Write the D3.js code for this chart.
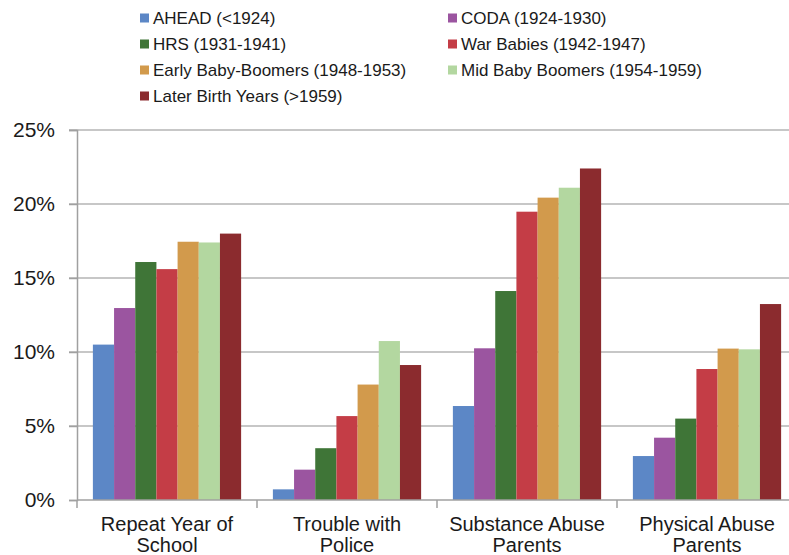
<!DOCTYPE html>
<html><head><meta charset="utf-8">
<script src="https://cdn.jsdelivr.net/npm/d3@7"></script>
<style>body{margin:0;background:#fff;} svg{display:block;font-family:"Liberation Sans",Arial,sans-serif;}</style>
</head><body><svg id="c" width="789" height="555"></svg>
<script>
const categories = ["Repeat Year of|School", "Trouble with|Police", "Substance Abuse|Parents", "Physical Abuse|Parents"];
const seriesNames = ["AHEAD (<1924)", "CODA (1924-1930)", "HRS (1931-1941)", "War Babies (1942-1947)", "Early Baby-Boomers (1948-1953)", "Mid Baby Boomers (1954-1959)", "Later Birth Years (>1959)"];
const seriesColors = ["#5c87c6", "#9b55a0", "#3f7537", "#c43d46", "#d29a4c", "#b3d7a0", "#8b2b2e"];
const AHEAD = [10.5, 0.72, 6.35, 2.97];
const CODA = [12.97, 2.05, 10.25, 4.21];
const HRS = [16.08, 3.5, 14.12, 5.5];
const WarBabies = [15.6, 5.67, 19.48, 8.85];
const EarlyBoomers = [17.45, 7.8, 20.43, 10.23];
const MidBoomers = [17.4, 10.74, 21.1, 10.18];
const LaterBirth = [18.0, 9.12, 22.4, 13.24];
const yTicks = [0, 5, 10, 15, 20, 25];

const seriesValues = [AHEAD, CODA, HRS, WarBabies, EarlyBoomers, MidBoomers, LaterBirth];
const svg = d3.select("#c");
const L = 77, R = 797, T = 130, B = 500;
const x0 = d3.scaleBand().domain(categories).range([L, R]).padding(0);
const x1 = d3.scaleBand().domain(seriesNames).range([0, x0.bandwidth()]).paddingInner(0).paddingOuter(0.75);
const y = d3.scaleLinear().domain([0, 25]).range([B, T]);

// gridlines
const grid = svg.append("g");
grid.selectAll("line").data(yTicks.filter(t => t > 0)).join("line")
  .attr("x1", L - 8).attr("x2", R).attr("y1", d => y(d)).attr("y2", d => y(d))
  .attr("stroke", "#b4b4b4").attr("stroke-width", 1.5);

// y axis
const yAxis = svg.append("g").attr("transform", `translate(${L},0)`)
  .call(d3.axisLeft(y).tickValues(yTicks).tickSize(8).tickPadding(14).tickFormat(d => d + "%"));
yAxis.select(".domain").attr("stroke", "#a0a0a0").attr("stroke-width", 1.5);
yAxis.selectAll(".tick line").attr("stroke", "#a0a0a0").attr("stroke-width", 1.5);
yAxis.selectAll("text").attr("font-size", 21).attr("fill", "#1a1a1a")
  .attr("font-family", "Liberation Sans, Arial, sans-serif");

// bars
const groups = svg.append("g").selectAll("g").data(categories).join("g")
  .attr("transform", d => `translate(${x0(d)},0)`);
groups.selectAll("rect").data((c, ci) => seriesNames.map((s, si) => ({s, si, v: seriesValues[si][ci]})))
  .join("rect")
  .attr("x", d => x1(d.s)).attr("width", x1.bandwidth())
  .attr("y", d => y(d.v)).attr("height", d => B - y(d.v))
  .attr("fill", d => seriesColors[d.si]);

// x axis
const xAxis = svg.append("g").attr("transform", `translate(0,${B})`);
xAxis.append("line").attr("x1", L).attr("x2", R).attr("y1", 0).attr("y2", 0)
  .attr("stroke", "#a0a0a0").attr("stroke-width", 1.5);
xAxis.selectAll("line.tk").data(categories).join("line").attr("class", "tk")
  .attr("x1", d => x0(d)).attr("x2", d => x0(d)).attr("y1", 0).attr("y2", 8)
  .attr("stroke", "#a0a0a0").attr("stroke-width", 1.5);
const lbl = xAxis.selectAll("text").data(categories).join("text")
  .attr("x", d => x0(d) + x0.bandwidth() / 2).attr("text-anchor", "middle")
  .attr("font-size", 20).attr("fill", "#1a1a1a");
lbl.each(function(d) {
  const parts = d.split("|");
  d3.select(this).selectAll("tspan").data(parts).join("tspan")
    .attr("x", x0(d) + x0.bandwidth() / 2).attr("y", (p, i) => 31 + i * 21).text(p => p);
});

// legend
const legend = svg.append("g");
const leg = legend.selectAll("g").data(seriesNames).join("g")
  .attr("transform", (d, i) => `translate(${i % 2 === 0 ? 140 : 448},${18 + Math.floor(i / 2) * 26})`);
leg.append("rect").attr("x", 0).attr("y", -4.5).attr("width", 9).attr("height", 9)
  .attr("fill", (d, i) => seriesColors[i]);
leg.append("text").attr("x", 13).attr("y", 0).attr("dy", "0.35em")
  .attr("font-size", 17).attr("fill", "#1a1a1a").text(d => d);
</script></body></html>
